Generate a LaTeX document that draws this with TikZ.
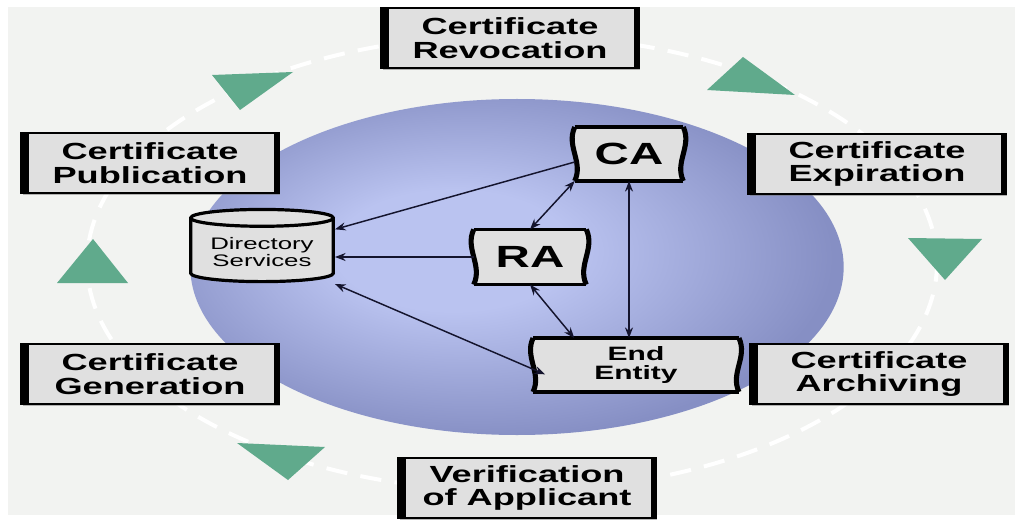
\documentclass[tikz,border=0pt]{standalone}
\usepackage{fontspec}
\setmainfont{Liberation Sans}
\newfontfamily\wide[FakeStretch=1.55]{Liberation Sans}
\usetikzlibrary{arrows.meta,shapes.geometric,shadows,positioning,calc}
\definecolor{paper}{RGB}{242,243,241}
\definecolor{boxgray}{RGB}{224,224,224}
\definecolor{globelight}{RGB}{186,195,240}
\definecolor{globedark}{RGB}{134,143,196}
\definecolor{turngreen}{RGB}{96,170,140}
\definecolor{linkblue}{RGB}{20,20,45}
\pgfdeclarelayer{back}
\pgfdeclarelayer{frames}
\pgfsetlayers{back,frames,main}
\pgfdeclareradialshading{globe}{\pgfpoint{-6bp}{3bp}}{color(0bp)=(globelight); color(9bp)=(globelight); color(27bp)=(globedark); color(50bp)=(globedark)}
\tikzset{%
      stage/.style={draw, line width=2.2pt, fill=boxgray, align=center, minimum width=193pt, minimum height=45pt,
        font=\wide\bfseries\fontsize{17.5}{17.5}\selectfont,
        drop shadow={shadow xshift=1pt, shadow yshift=-1.8pt, fill=black!55},
        path picture={\fill[black] (path picture bounding box.north west) rectangle ([xshift=6pt]path picture bounding box.south west);
          \fill[black] ([xshift=-3.5pt]path picture bounding box.north east) rectangle (path picture bounding box.south east);}},
      entity/.style={inner sep=0pt, align=center, font=\wide\bfseries\fontsize{23}{23}\selectfont},
      store/.style={cylinder, shape border rotate=90, aspect=0.15, draw, line width=2.4pt, fill=boxgray, align=center,
        minimum width=107pt, minimum height=53pt, inner ysep=7pt, font=\wide\fontsize{12.5}{13}\selectfont},
      ring/.style={draw=white, line width=3pt, dash pattern=on 16pt off 10pt},
      turn/.style={fill=turngreen},
      link/.style={draw=linkblue, line width=1.1pt, -{Stealth[length=8pt,width=6pt]}},
      duplex/.style={link, {Stealth[length=8pt,width=6pt]}-{Stealth[length=8pt,width=6pt]}},
    }
\newcommand{\stage}[2]{node (#1) [stage] {#2}}
\newcommand{\wavyframe}[1]{%
      \fill[boxgray] (#1.north west) to[out=-115,in=65] (#1.south west) -- (#1.south east)
        to[out=115,in=-65] (#1.north east) -- cycle;
      \draw[line width=2.4pt] (#1.north west) -- (#1.north east) (#1.south west) -- (#1.south east);
      \draw[line width=3.8pt] (#1.north west) to[out=-115,in=65] (#1.south west)
        (#1.north east) to[out=-65,in=115] (#1.south east);}
\begin{document}
\begin{tikzpicture}[x=0.75pt,y=-0.75pt]
      \useasboundingbox (0,0) rectangle (1019,520);

      % Draw background, ring and globe
      \begin{pgfonlayer}{back}
        \fill[paper] (8,7) rectangle (1015,515);
        \draw[ring] (512,263) ellipse [x radius=318.75pt, y radius=171pt];
        \shade[shading=globe] (517,267) ellipse [x radius=245pt, y radius=126pt];
      \end{pgfonlayer}

      % Draw turn markers on the ring
      \fill[turn] (212,75) -- (293,72) -- (240,110) -- cycle;
      \fill[turn] (707,90) -- (743,57) -- (795,95) -- cycle;
      \fill[turn] (908,238) -- (982,239) -- (945,280) -- cycle;
      \fill[turn] (57,283) -- (93,239) -- (128,283) -- cycle;
      \fill[turn] (237,443) -- (325,447) -- (288,480) -- cycle;

      % Draw lifecycle stages
      \path (510,38) \stage{rev}{Certificate\\Revocation};
      \path (877,164) \stage{exp}{Certificate\\Expiration};
      \path (879,374) \stage{arch}{Certificate\\Archiving};
      \path (527,488) \stage{veri}{Verification\\of Applicant};
      \path (150,374) \stage{gen}{Certificate\\Generation};
      \path (150,163) \stage{pub}{Certificate\\Publication};

      % Draw PKI entities
      \node (ca) [entity, minimum width=81pt, minimum height=40pt] at (629,154) {CA};
      \node (ra) [entity, minimum width=84pt, minimum height=41pt] at (530,257) {RA};
      \node (ee) [entity, minimum width=154pt, minimum height=40pt,
        font=\wide\bfseries\fontsize{14.5}{14.5}\selectfont] at (636,365) {End\\Entity};
      \node (ds) [store] at (262,252) {Directory\\Services};

      \begin{pgfonlayer}{frames}
        \wavyframe{ca}
        \wavyframe{ra}
        \wavyframe{ee}
      \end{pgfonlayer}

      % Draw arrows between entities
      \path [link] ([yshift=-6pt]ca.west) -- ([yshift=17pt]ds.east);
      \path [link] (ra.west) -- (ra.west -| ds.east);
      \path [duplex] (ca.south west) -- (ra.north);
      \path [duplex] (ra.south) -- ($(ee.north west)!0.2!(ee.north east)$);
      \path [duplex] ([yshift=-24pt]ds.east) -- ([xshift=9pt,yshift=-7pt]ee.west);
      \path [duplex] (ca.south) -- (ca.south |- ee.north);

    \end{tikzpicture}
\end{document}
